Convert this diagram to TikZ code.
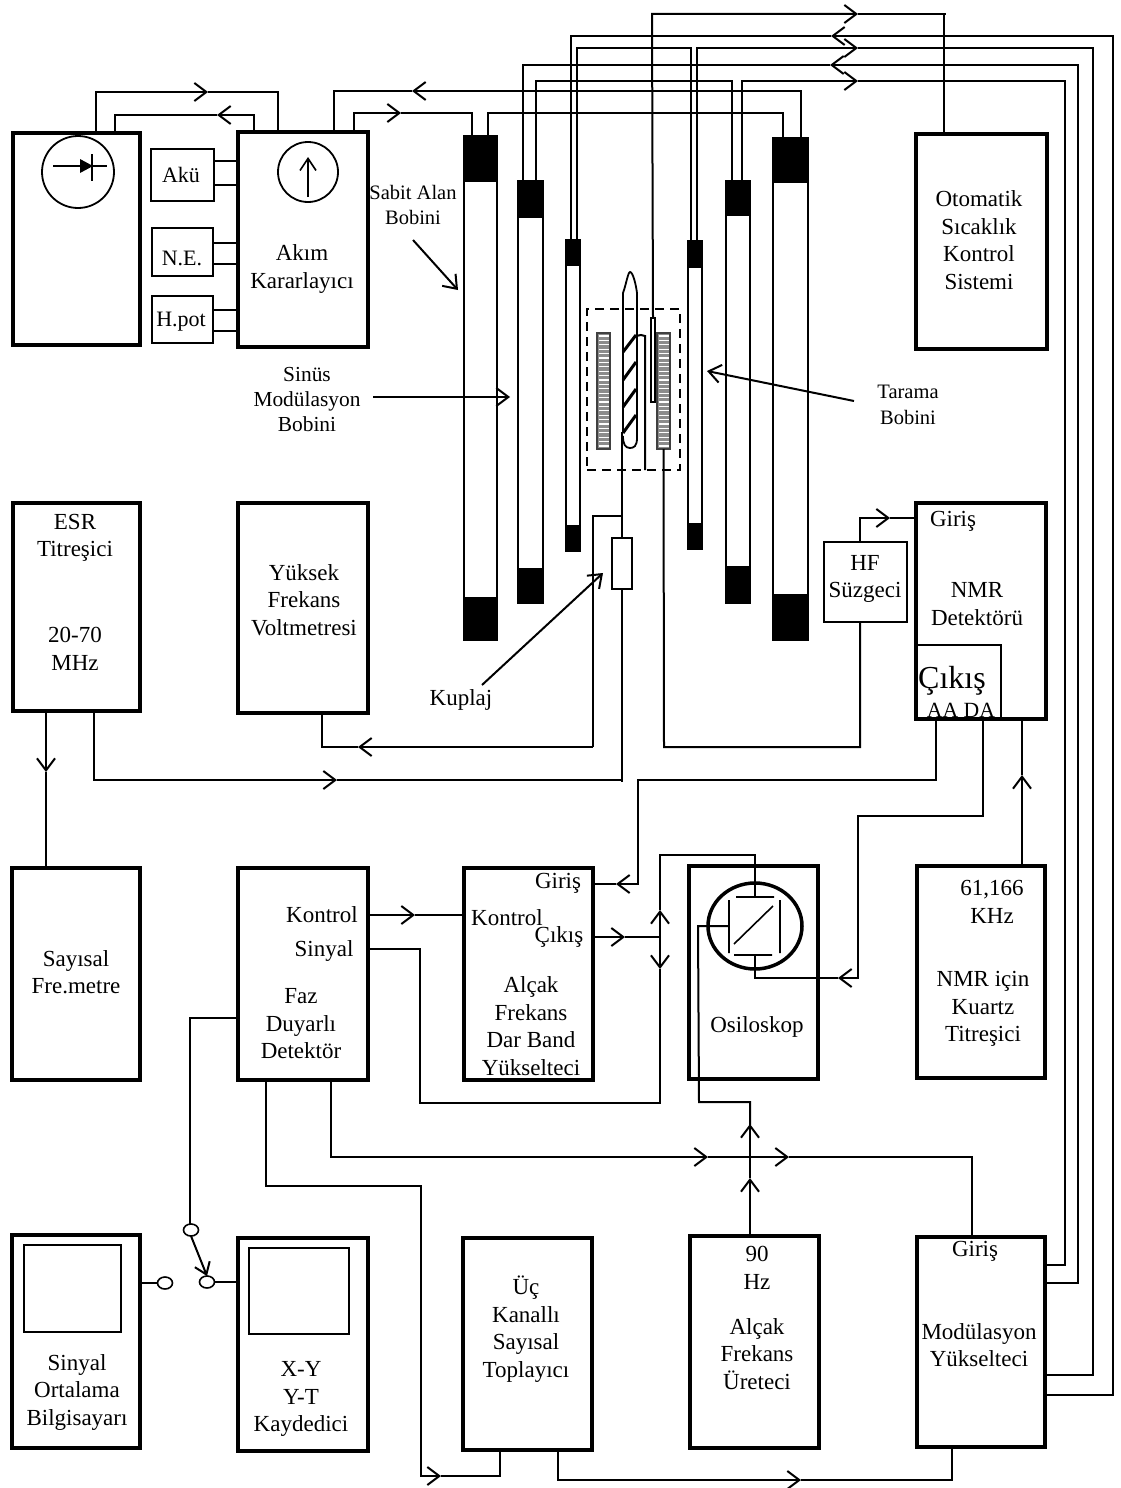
\documentclass[tikz,border=0pt]{standalone}
\usepackage{fontspec}
\setmainfont{Liberation Serif}
\usetikzlibrary{arrows.meta,calc,shapes.geometric}
\tikzset{
  heavy/.style={draw,line width=3.6pt},
  light/.style={draw,line width=1.8pt},
  blackcap/.style={draw,fill=black,line width=1pt},
  coil/.style={draw,line width=2pt},
  w/.style={line width=2pt},
  wt/.style={line width=1.6pt},
  tip/.style={-{Straight Barb[length=12pt,width=18pt,line width=2pt]}},
  lbl/.style={inner sep=0pt,outer sep=0pt,align=center,yshift=-2pt,font=\fontsize{23}{27.5}\selectfont},
  sm/.style={inner sep=0pt,outer sep=0pt,align=center,yshift=-1pt,font=\fontsize{20.5}{25.5}\selectfont},
  hatch/.style={draw=black!75,fill=black!45,line width=1.6pt},
}
\newcommand\bx[6][heavy]{%
  \pgfmathsetmacro\bw{#5-#3}\pgfmathsetmacro\bh{#6-#4}%
  \pgfmathsetmacro\bcx{(#5+#3)/2}\pgfmathsetmacro\bcy{(#6+#4)/2}%
  \node[#1,inner sep=0pt,outer sep=0pt,minimum width=\bw pt,minimum height=\bh pt,anchor=center] (#2) at (\bcx,\bcy) {};}
\newcommand\hatchbox[5]{%
  \bx[hatch]{#1}{#2}{#3}{#4}{#5}%
  \pgfmathsetmacro\hstart{#3+3}\pgfmathsetmacro\hnext{#3+7.4}\pgfmathsetmacro\hend{#5-2}%
  \foreach \yy in {\hstart,\hnext,...,\hend}{\draw[white,line width=1.2pt] (#2+1.5,\yy) -- (#4-1.5,\yy);}}
\begin{document}
\begin{tikzpicture}[x=1pt,y=-1pt]
\useasboundingbox[fill=white] (0,0) rectangle (1121,1488);
% main boxes
\bx{rect}{13}{133}{140}{345}
\bx{akim}{238}{132}{368}{347}
\bx[light]{aku}{151}{149}{214}{201}
\bx[light]{ne}{152}{228}{213}{276}
\bx[light]{hpot}{152}{296}{213}{343}
\bx{oto}{916}{134}{1047}{349}
\bx{esr}{13}{503}{140}{711}
\bx{yuk}{238}{503}{368}{713}
\bx{nmr}{916}{503}{1046}{719}
\bx[light]{hf}{824}{542}{907}{622}
\bx{say}{12}{868}{140}{1080}
\bx{faz}{238}{868}{368}{1080}
\bx{dar}{464}{868}{593}{1080}
\bx{osi}{689}{866}{818}{1079}
\bx{kuv}{917}{866}{1045}{1078}
\bx{sin}{12}{1235}{140}{1448}
\bx[light]{sinin}{24}{1245}{121}{1332}
\bx{kay}{238}{1238}{368}{1451}
\bx[light]{kayin}{249}{1248}{349}{1334}
\bx{uc}{463}{1238}{592}{1450}
\bx{uret}{690}{1236}{819}{1448}
\bx{mod}{917}{1237}{1045}{1447}
\draw[wt] (917,645) coordinate (cikA) -- (1001,645) coordinate (cikB) -- (1001,719);
% coils
\bx[coil]{c1}{464}{136}{497}{640}
\bx[blackcap]{c1a}{464}{136}{497}{181}
\bx[blackcap]{c1b}{464}{597}{497}{640}
\bx[coil]{c2}{518}{181}{543}{603}
\bx[blackcap]{c2a}{518}{181}{543}{217}
\bx[blackcap]{c2b}{518}{568}{543}{603}
\bx[coil]{c3}{566}{240}{580}{551}
\bx[blackcap]{c3a}{566}{240}{580}{265}
\bx[blackcap]{c3b}{566}{525}{580}{551}
\bx[coil]{c4}{688}{241}{702}{549}
\bx[blackcap]{c4a}{688}{241}{702}{267}
\bx[blackcap]{c4b}{688}{523}{702}{549}
\bx[coil]{c5}{726}{181}{750}{603}
\bx[blackcap]{c5a}{726}{181}{750}{215}
\bx[blackcap]{c5b}{726}{566}{750}{603}
\bx[coil]{c6}{773}{138}{808}{640}
\bx[blackcap]{c6a}{773}{138}{808}{182}
\bx[blackcap]{c6b}{773}{594}{808}{640}
% centre assembly
\bx[draw,dashed,line width=1.6pt,dash pattern=on 9pt off 6pt]{dash}{587}{309}{680}{470}
\hatchbox{hl}{597}{333}{610}{449}
\hatchbox{hr}{657}{333}{670}{449}
\draw[w,line width=1.8pt] (623,432) -- (623,293) .. controls (626,285) and (628,272) .. (630,272) .. controls (633,272) and (636,285) .. (637,293) -- (637,438) .. controls (637,446) and (634,448) .. (630,448) .. controls (625,448) and (623,444) .. (623,436);
\foreach \a/\b in {352/335,380/362,407/389,433/415}{\draw[line width=3pt] (623,\a) -- (636,\b);}
\draw[w] (636,336) -- (641,335) -- (645,336) -- (645,470);
\bx[draw,fill=white,line width=1.5pt]{sens}{651}{318}{655}{402}
\bx[light]{kup}{612}{538}{632}{589}
\draw[line width=2.5pt] (622,432) -- (622,495);
\draw[w] (622,495) -- (kup.north);
\draw[w] (622,516) -- (593,516) -- (593,747) coordinate (v1);
\draw[w] (kup.south) -- (622,782) coordinate (e1);
\draw[w] (hr.south) -- (664,747) -- (860,747) -- (hf.south -| 860,0);
% lines at top
\draw[w,tip] (rect.north -| 96,0) -- (96,92) -- (208,92);
\draw[w] (208,92) -- (278,92) -- (akim.north -| 278,0);
\draw[w,tip] (akim.north -| 254,0) -- (254,115) -- (217,115);
\draw[w] (217,115) -- (115,115) -- (rect.north -| 115,0);
\draw[w,tip] (akim.north -| 354,0) -- (354,113) -- (401,113);
\draw[w] (401,113) -- (472,113) -- (c1a.north -| 472,0);
\draw[w,tip] (c6a.north -| 801,0) -- (801,91) -- (412,91);
\draw[w] (412,91) -- (334,91) -- (akim.north -| 334,0);
\draw[w] (c1a.north -| 488,0) -- (488,113) -- (783,113) -- (c6a.north -| 783,0);
\draw[w,tip] (sens.north) -- (652,14) -- (858,14);
\draw[w] (858,14) -- (946,14);
\draw[w] (944,14) -- (oto.north -| 944,0);
% modulation bus
\draw[w,tip] (mod.east |- 0,1395) -- (1113,1395) -- (1113,36) -- (831,36);
\draw[w] (831,36) -- (571,36) -- (c3a.north -| 571,0);
\draw[w] (c3a.north -| 577,0) -- (577,48) -- (691,48) -- (c4a.north -| 691,0);
\draw[w,tip] (c4a.north -| 697,0) -- (697,48) -- (858,48);
\draw[w] (858,48) -- (1093,48) -- (1093,1375) -- (mod.east |- 0,1375);
\draw[w,tip] (mod.east |- 0,1283) -- (1078,1283) -- (1078,65) -- (830,65);
\draw[w] (830,65) -- (523,65) -- (c2a.north -| 523,0);
\draw[w] (c2a.north -| 536,0) -- (536,81) -- (732,81) -- (c5a.north -| 732,0);
\draw[w,tip] (c5a.north -| 742,0) -- (742,81) -- (858,81);
\draw[w] (858,81) -- (1065,81) -- (1065,1265) -- (mod.east |- 0,1265);
% small links
\foreach \n/\y in {aku/161,aku/185,ne/243,ne/264,hpot/310,hpot/331}{\draw[w] (\n.east |- 0,\y) -- (akim.west |- 0,\y);}
% circles top
\node[draw,circle,line width=1.8pt,minimum size=72pt,inner sep=0pt,outer sep=0pt] (dio) at (78,172) {};
\draw[line width=1.6pt] (53,166) -- (107,166);
\fill (80,159) -- (93,166) -- (80,173) -- cycle;
\draw[line width=1.8pt] (92,154) -- (92,181);
\node[draw,circle,line width=1.8pt,minimum size=60pt,inner sep=0pt,outer sep=0pt] (cur) at (308,172) {};
\draw[line width=1.6pt,-{Straight Barb[length=12pt,width=16pt,line width=1.6pt]}] (308,197) -- (308,157);
% ESR etc
\draw[w,tip] (esr.south -| 46,0) -- (46,772);
\draw[w] (46,772) -- (say.north -| 46,0);
\draw[w,tip] (esr.south -| 94,0) -- (94,780) -- (337,780);
\draw[w] (337,780) -- (622,780);
\draw[w,tip] (v1) -- (358,747);
\draw[w] (358,747) -- (322,747) -- (yuk.south -| 322,0);
\draw[w,tip] (hf.north -| 860,0) -- (860,518) -- (890,518);
\draw[w] (890,518) -- (nmr.west |- 0,518);
% NMR outputs
\draw[w,tip] (nmr.south -| 936,0) -- (936,780) -- (638,780) -- (638,884) -- (616,884);
\draw[w] (616,884) -- (dar.east |- 0,884);
\draw[w,tip] (nmr.south -| 983,0) -- (983,816) -- (858,816) -- (858,978) -- (838,978);
\draw[w] (838,978) -- (755,978) -- (755,955);
\draw[w,tip] (kuv.north -| 1022,0) -- (1022,775);
\draw[w] (1022,775) -- (nmr.south -| 1022,0);
% Kontrol / Sinyal
\draw[w,tip] (faz.east |- 0,915) -- (415,915);
\draw[w] (415,915) -- (dar.west |- 0,915);
\draw[w] (faz.east |- 0,949) -- (420,949) -- (420,1103) -- (660,1103) -- (660,969);
\draw[w,tip] (660,937) -- (660,969);
\draw[w,tip] (660,937) -- (660,910);
\draw[w] (660,910) -- (660,855) -- (755,855) -- (755,897);
\draw[w,tip] (dar.east |- 0,937) -- (625,937);
\draw[w] (625,937) -- (660,937);
% scope
\node[draw,ellipse,line width=3.5pt,minimum width=94pt,minimum height=86pt,inner sep=0pt,outer sep=0pt] at (755,926) (scr) {};
\draw[line width=1.6pt] (736,897) -- (774,897) (734,955) -- (772,955) (729,900) -- (729,953) (780,900) -- (780,953) (734,944) -- (773,906);
\draw[w] (729,926) -- (698,926) -- (699,1102) -- (750,1102) -- (750,1125);
\draw[w,tip] (uret.north -| 750,0) -- (750,1178);
\draw[w] (750,1178) -- (750,1125);
\draw[w,tip] (750,1157) -- (750,1124);
% bottom routes
\draw[w,tip] (faz.south -| 331,0) -- (331,1157) -- (708,1157);
\draw[w] (708,1157) -- (750,1157);
\draw[w,tip] (750,1157) -- (789,1157);
\draw[w] (789,1157) -- (972,1157) -- (mod.north -| 972,0);
\draw[w,tip] (faz.south -| 266,0) -- (266,1186) -- (421,1186) -- (421,1476) -- (441,1476);
\draw[w] (441,1476) -- (500,1476) -- (uc.south -| 500,0);
\draw[w,tip] (uc.south -| 558,0) -- (558,1480) -- (801,1480);
\draw[w] (801,1480) -- (952,1480) -- (mod.south -| 952,0);
% switch
\node[draw,ellipse,line width=1.6pt,minimum width=15pt,minimum height=12pt,inner sep=0pt,outer sep=0pt] (s1) at (191,1230) {};
\node[draw,ellipse,line width=1.6pt,minimum width=15pt,minimum height=12pt,inner sep=0pt,outer sep=0pt] (s2) at (165,1283) {};
\node[draw,ellipse,line width=1.6pt,minimum width=15pt,minimum height=12pt,inner sep=0pt,outer sep=0pt] (s3) at (207,1282) {};
\draw[w] (faz.west |- 0,1018) -- (190,1018) -- (s1.north -| 190,0);
\draw[w] (sin.east |- s2) -- (s2.west);
\draw[w] (s3.east) -- (kay.west |- s3);
\draw[w,-{Straight Barb[length=11pt,width=16pt,line width=2pt]}] (s1.south) -- (s3.north);
% annotation arrows
\coordinate (a1) at (413,240); \draw[w,tip] (a1) -- (458,290);
\coordinate (a2) at (373,397); \draw[w,tip] (a2) -- (510,397);
\coordinate (a3) at (854,401); \draw[w,tip] (a3) -- (707,371);
\coordinate (a4) at (482,685); \draw[w,tip] (a4) -- (603,573);
% text
\node[lbl,font=\fontsize{22}{27}\selectfont] (taku) at (181,173) {Akü};
\node[lbl,font=\fontsize{22}{27}\selectfont] (tne) at (182,256) {N.E.};
\node[lbl,font=\fontsize{22}{27}\selectfont] (thp) at (181,320) {H.pot};
\node[lbl] (takim) at (302,267) {Akım\\Kararlayıcı};
\node[sm] (tsab) at (413,204) {Sabit Alan\\Bobini};
\node[sm,font=\fontsize{21.4}{25}\selectfont] (tsin) at (307,399) {Sinüs\\Modülasyon\\Bobini};
\node[sm] (ttar) at (908,404) {Tarama\\Bobini};
\node[lbl] (toto) at (979,238) {Otomatik\\Sıcaklık\\Kontrol\\Sistemi};
\node[lbl] (tesr) at (75,536) {ESR\\Titreşici};
\node[lbl] (tesr2) at (75,647) {20-70\\MHz};
\node[lbl] (tyuk) at (304,598) {Yüksek\\Frekans\\Voltmetresi};
\node[lbl] (thf) at (865,577) {HF\\Süzgeci};
\node[lbl] (tgi) at (953,519) {Giriş};
\node[lbl] (tnmr) at (977,602) {NMR\\Detektörü};
\node[lbl,font=\fontsize{32}{32}\selectfont] (tcik) at (952,679) {Çıkış};
\node[lbl,font=\fontsize{21.7}{24}\selectfont] (taa) at (961,708) {AA DA};
\node[lbl] (tkup) at (461,698) {Kuplaj};
\node[lbl] (tsay) at (76,970) {Sayısal\\Fre.metre};
\node[lbl] (tko) at (322,913) {Kontrol};
\node[lbl] (tsi) at (324,949) {Sinyal};
\node[lbl] (tfaz) at (301,1022) {Faz\\Duyarlı\\Detektör};
\node[lbl] (tgi2) at (558,881) {Giriş};
\node[lbl] (tko2) at (507,916) {Kontrol};
\node[lbl] (tci2) at (559,935) {Çıkış};
\node[lbl] (tal) at (531,1024) {Alçak\\Frekans\\Dar Band\\Yükselteci};
\node[lbl] (tos) at (757,1025) {Osiloskop};
\node[lbl] (t61) at (992,900) {61,166\\KHz};
\node[lbl] (tku) at (983,1007) {NMR için\\Kuartz\\Titreşici};
\node[lbl] (tsino) at (77,1390) {Sinyal\\Ortalama\\Bilgisayarı};
\node[lbl] (txy) at (301,1397) {X-Y\\Y-T\\Kaydedici};
\node[lbl] (tuc) at (526,1327) {Üç\\Kanallı\\Sayısal\\Toplayıcı};
\node[lbl] (t90) at (757,1266) {90\\Hz};
\node[lbl] (tala) at (757,1352) {Alçak\\Frekans\\Üreteci};
\node[lbl] (tgi3) at (975,1249) {Giriş};
\node[lbl] (tmod) at (979,1343) {Modülasyon\\Yükselteci};
\end{tikzpicture}
\end{document}
